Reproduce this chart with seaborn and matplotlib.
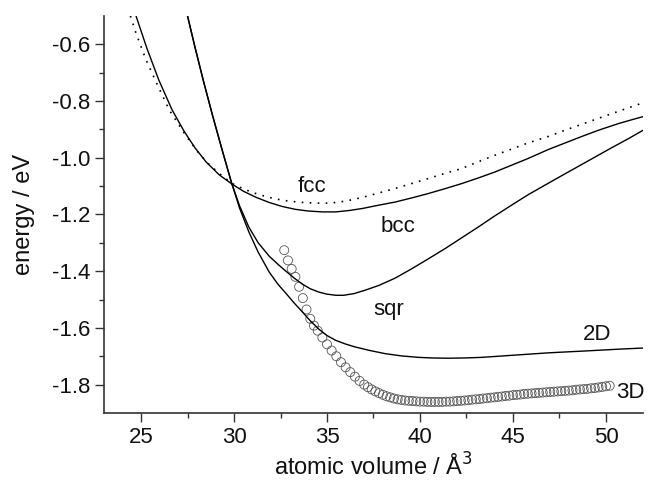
import numpy as np
import matplotlib
matplotlib.use("Agg")
import matplotlib.pyplot as plt
import seaborn as sns

# values (atomic volume in A^3, energy in eV)
fcc_x = [24.43, 24.73, 25.27, 25.86, 26.52, 27.34, 28.00, 28.60, 29.20, 29.87,
         30.50, 31.20, 31.90, 32.60, 33.50, 34.40, 35.20, 36.00, 36.90, 37.80,
         38.68, 39.60, 40.46, 41.35, 42.25, 43.10, 44.00, 44.90, 45.80, 46.90,
         47.80, 48.70, 49.60, 50.60, 51.70, 52.00]
fcc_y = [-0.500, -0.561, -0.655, -0.740, -0.832, -0.915, -0.975, -1.020, -1.055, -1.090,
         -1.110, -1.127, -1.140, -1.150, -1.157, -1.160, -1.160, -1.153, -1.140, -1.124,
         -1.108, -1.090, -1.073, -1.055, -1.038, -1.015, -0.992, -0.970, -0.948, -0.925,
         -0.903, -0.882, -0.861, -0.838, -0.813, -0.806]

bcc_x = [24.73, 25.32, 25.95, 26.66, 27.30, 27.90, 28.50, 29.20, 29.87, 30.50,
         31.20, 31.90, 32.60, 33.30, 34.00, 34.75, 35.47, 36.20, 36.90, 37.80,
         38.68, 39.60, 40.46, 41.35, 42.25, 43.15, 44.04, 44.90, 45.80, 46.90,
         47.80, 48.70, 49.60, 50.70, 51.50, 52.00]
bcc_y = [-0.500, -0.615, -0.725, -0.830, -0.905, -0.965, -1.015, -1.060, -1.092, -1.118,
         -1.140, -1.158, -1.172, -1.182, -1.188, -1.191, -1.191, -1.186, -1.179, -1.167,
         -1.156, -1.141, -1.126, -1.109, -1.091, -1.071, -1.050, -1.027, -1.003, -0.971,
         -0.948, -0.925, -0.903, -0.879, -0.864, -0.855]

sqr_x = [27.50, 27.90, 28.35, 28.85, 29.35, 29.87, 30.30, 30.80, 31.30, 31.89,
         32.40, 32.79, 33.23, 33.68, 34.10, 34.57, 35.00, 35.47, 35.90, 36.46,
         37.10, 37.80, 38.68, 39.57, 40.46, 41.36, 42.25, 43.14, 44.00, 44.93,
         45.80, 46.71, 47.60, 48.50, 49.40, 50.30, 51.20, 52.00]
sqr_y = [-0.500, -0.610, -0.728, -0.852, -0.970, -1.089, -1.170, -1.245, -1.300, -1.347,
         -1.378, -1.400, -1.424, -1.446, -1.462, -1.474, -1.481, -1.485, -1.485, -1.479,
         -1.466, -1.450, -1.424, -1.391, -1.356, -1.320, -1.282, -1.244, -1.206, -1.167,
         -1.131, -1.097, -1.064, -1.031, -0.998, -0.965, -0.933, -0.903]

d2_x = [27.50, 27.90, 28.35, 28.85, 29.35, 29.87, 30.30, 30.80, 31.30, 31.89,
        32.35, 32.79, 33.23, 33.68, 34.10, 34.57, 35.00, 35.47, 36.00, 36.50,
        37.25, 38.14, 39.03, 39.93, 40.64, 41.50, 42.43, 43.30, 44.21, 45.10,
        46.00, 46.90, 47.79, 48.70, 49.57, 50.70, 52.00]
d2_y = [-0.500, -0.610, -0.728, -0.852, -0.970, -1.089, -1.178, -1.262, -1.333, -1.403,
        -1.445, -1.478, -1.512, -1.544, -1.575, -1.605, -1.627, -1.644, -1.657, -1.667,
        -1.679, -1.691, -1.699, -1.704, -1.706, -1.707, -1.706, -1.704, -1.700, -1.696,
        -1.692, -1.688, -1.685, -1.682, -1.679, -1.675, -1.671]

d3_x = [32.70, 32.90, 33.10, 33.30, 33.50, 33.70, 33.90, 34.10, 34.30, 34.50,
        34.75, 35.00, 35.25, 35.50, 35.75, 36.00, 36.25, 36.50, 36.75, 37.00,
        37.20, 37.40, 37.60, 37.80, 38.00, 38.20, 38.40, 38.60, 38.80, 39.00,
        39.20, 39.40, 39.60, 39.80, 40.00, 40.20, 40.40, 40.60, 40.80, 41.00,
        41.20, 41.40, 41.60, 41.80, 42.00, 42.20, 42.40, 42.60, 42.80, 43.00,
        43.20, 43.40, 43.60, 43.80, 44.00, 44.20, 44.40, 44.60, 44.80, 45.00,
        45.20, 45.40, 45.60, 45.80, 46.00, 46.20, 46.40, 46.60, 46.80, 47.00,
        47.20, 47.40, 47.60, 47.80, 48.00, 48.20, 48.40, 48.60, 48.80, 49.00,
        49.20, 49.40, 49.60, 49.80, 50.00, 50.20]
d3_y = [-1.326, -1.362, -1.392, -1.420, -1.455, -1.495, -1.535, -1.568, -1.592, -1.610,
        -1.634, -1.658, -1.680, -1.700, -1.721, -1.739, -1.756, -1.772, -1.787, -1.800,
        -1.809, -1.817, -1.824, -1.830, -1.836, -1.841, -1.845, -1.849, -1.852, -1.854,
        -1.856, -1.857, -1.858, -1.859, -1.860, -1.860, -1.861, -1.861, -1.861, -1.861,
        -1.861, -1.860, -1.860, -1.859, -1.858, -1.857, -1.856, -1.855, -1.853, -1.852,
        -1.851, -1.849, -1.848, -1.846, -1.845, -1.843, -1.842, -1.840, -1.839, -1.837,
        -1.836, -1.835, -1.833, -1.832, -1.831, -1.830, -1.829, -1.828, -1.827, -1.826,
        -1.825, -1.824, -1.823, -1.822, -1.821, -1.820, -1.818, -1.817, -1.816, -1.815,
        -1.813, -1.812, -1.810, -1.808, -1.806, -1.804]

labels = ["fcc", "bcc", "sqr", "2D", "3D"]
label_x = [33.40, 37.90, 37.50, 48.77, 50.55]
label_y = [-1.121, -1.261, -1.556, -1.643, -1.848]

sns.set_style("ticks")
plt.rcParams["font.family"] = ["Liberation Sans", "DejaVu Sans"]

fig = plt.figure(figsize=(6.49, 4.83), dpi=100)
ax = fig.add_axes([0.160, 0.145, 0.831, 0.822])

sns.lineplot(x=fcc_x, y=fcc_y, ax=ax, color="black", lw=1.2,
             linestyle=(0, (1, 3.8)), sort=False, estimator=None)
for xs, ys in [(bcc_x, bcc_y), (sqr_x, sqr_y), (d2_x, d2_y)]:
    sns.lineplot(x=xs, y=ys, ax=ax, color="black", lw=1.0, sort=False, estimator=None)

sns.scatterplot(x=d3_x, y=d3_y, ax=ax, s=42, facecolors="none",
                edgecolor="#555555", linewidth=0.6, marker="o")

for t, xx, yy in zip(labels, label_x, label_y):
    ax.text(xx, yy, t, fontsize=16, ha="left", va="baseline", color="#111111")

ax.set_xlim(23, 52)
ax.set_ylim(-1.9, -0.5)
ax.set_xticks([25, 30, 35, 40, 45, 50])
ax.set_yticks([-1.8, -1.6, -1.4, -1.2, -1.0, -0.8, -0.6])
ax.set_yticklabels(["-1.8", "-1.6", "-1.4", "-1.2", "-1.0", "-0.8", "-0.6"])
ax.set_xticks(np.arange(27.5, 52, 5), minor=True)
ax.set_yticks(np.arange(-1.7, -0.5, 0.2), minor=True)
ax.tick_params(which="major", direction="out", length=6.5, width=1.0, labelsize=16,
               color="#333333", labelcolor="#111111")
ax.tick_params(which="minor", direction="out", length=3.5, width=1.0, color="#333333")
for s in ["top", "right"]:
    ax.spines[s].set_visible(False)
for s in ["left", "bottom"]:
    ax.spines[s].set_color("#333333")
    ax.spines[s].set_linewidth(1.2)

ax.set_xlabel("atomic volume / Å$^3$", fontsize=17, color="#111111", labelpad=4)
ax.set_ylabel("energy / eV", fontsize=17, color="#111111", labelpad=12)

fig.savefig("out.png", dpi=100)
